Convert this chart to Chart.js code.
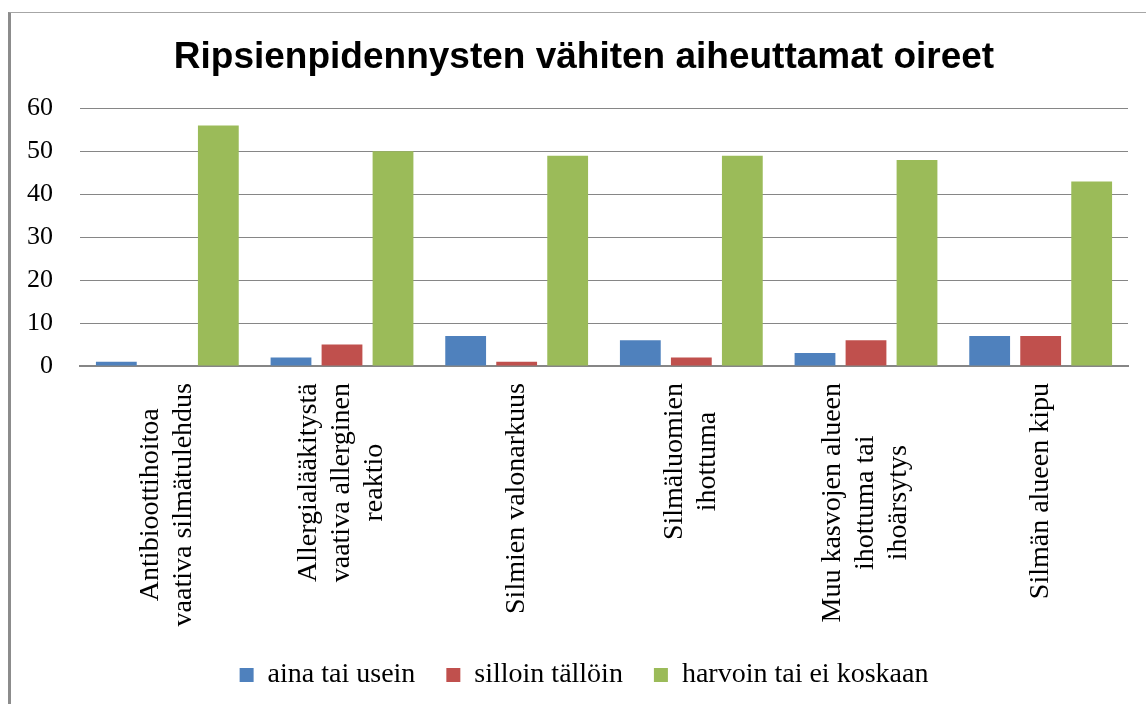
<!DOCTYPE html>
<html>
<head>
<meta charset="utf-8">
<script src="https://cdn.jsdelivr.net/npm/chart.js@4"></script>
<style>
    html, body { margin: 0; padding: 0; background: #fff; overflow: hidden; }
    #frame {
        position: absolute; left: 8px; top: 12px;
        width: 1146px; height: 692px;
        border-left: 3px solid #8c8c8c;
        border-top: 1px solid #a6a6a6;
    }
</style>
</head>
<body>
<div id="frame"><canvas id="chart" width="1146" height="691"></canvas></div>
<script>
const categories = [
    ["Antibioottihoitoa", "vaativa silmätulehdus"],
    ["Allergialääkitystä", "vaativa allerginen", "reaktio"],
    ["Silmien valonarkuus"],
    ["Silmäluomien", "ihottuma"],
    ["Muu kasvojen alueen", "ihottuma tai", "ihoärsytys"],
    ["Silmän alueen kipu"]
];
const seriesNames = ["aina tai usein", "silloin tällöin", "harvoin tai ei koskaan"];
const ainaTaiUsein = [1, 2, 7, 6, 3, 7];
const silloinTalloin = [0, 5, 1, 2, 6, 7];
const harvoinTaiEi = [56, 50, 49, 49, 48, 43];
const yTicks = [0, 10, 20, 30, 40, 50, 60];

document.addEventListener("DOMContentLoaded", function () {

    Chart.defaults.font.family = "'Liberation Serif', serif";
    Chart.defaults.color = "#000";

    // vertical multi-line category labels, lines centred on each other
    const verticalLabels = {
        id: "verticalLabels",
        afterDraw(chart) {
            const ctx = chart.ctx;
            const xs = chart.scales.x;
            const top = chart.chartArea.bottom + 17;
            const pitch = 33;
            ctx.save();
            ctx.font = "28px 'Liberation Serif'";
            ctx.fillStyle = "#000";
            ctx.textAlign = "center";
            ctx.textBaseline = "middle";
            categories.forEach(function (lines, i) {
                const cx = xs.getPixelForValue(i);
                let maxW = 0;
                lines.forEach(function (l) { maxW = Math.max(maxW, ctx.measureText(l).width); });
                lines.forEach(function (l, k) {
                    const x = cx + (k - (lines.length - 1) / 2) * pitch;
                    ctx.save();
                    ctx.translate(x, top);
                    ctx.rotate(-Math.PI / 2);
                    ctx.fillText(l, -maxW / 2, 0);
                    ctx.restore();
                });
            });
            ctx.restore();
        }
    };

    const chartCanvas = document.getElementById("chart").getContext("2d");

    new Chart(chartCanvas, {
        type: "bar",
        data: {
            labels: categories.map(function (c) { return c.join(" "); }),
            datasets: [
                { label: seriesNames[0], data: ainaTaiUsein, backgroundColor: "#4f81bd" },
                { label: seriesNames[1], data: silloinTalloin, backgroundColor: "#c0504d" },
                { label: seriesNames[2], data: harvoinTaiEi, backgroundColor: "#9bbb59" }
            ]
        },
        options: {
            responsive: false,
            animation: false,
            datasets: {
                bar: { categoryPercentage: 0.876, barPercentage: 0.8, borderWidth: 0 }
            },
            layout: { padding: { left: 0, right: 0, top: 0, bottom: 5 } },
            plugins: {
                title: {
                    display: true,
                    text: "Ripsienpidennysten vähiten aiheuttamat oireet",
                    color: "#000",
                    font: { family: "'Liberation Sans', Arial, sans-serif", size: 37, weight: "bold", lineHeight: 1.2 },
                    padding: { top: 23, bottom: 28 }
                },
                legend: {
                    position: "bottom",
                    labels: {
                        boxWidth: 14,
                        boxHeight: 14,
                        padding: 31,
                        color: "#000",
                        font: { size: 28 }
                    }
                },
                tooltip: { enabled: false }
            },
            scales: {
                x: {
                    grid: { display: false },
                    border: { display: true, color: "#868686", width: 2 },
                    ticks: { display: false },
                    afterFit: function (scale) { scale.height = 264; }
                },
                y: {
                    min: 0,
                    max: 60,
                    afterBuildTicks: function (scale) {
                        scale.ticks = yTicks.map(function (v) { return { value: v }; });
                    },
                    grid: { color: "#868686", lineWidth: 1, drawTicks: false },
                    border: { display: false },
                    ticks: { padding: 27, font: { size: 26 } },
                    afterFit: function (scale) { scale.width = 69; }
                },
                yR: {
                    position: "right",
                    display: true,
                    grid: { display: false },
                    border: { display: false },
                    ticks: { display: false },
                    afterFit: function (scale) { scale.width = 29; }
                }
            }
        },
        plugins: [verticalLabels]
    });

});
</script>
</body>
</html>
